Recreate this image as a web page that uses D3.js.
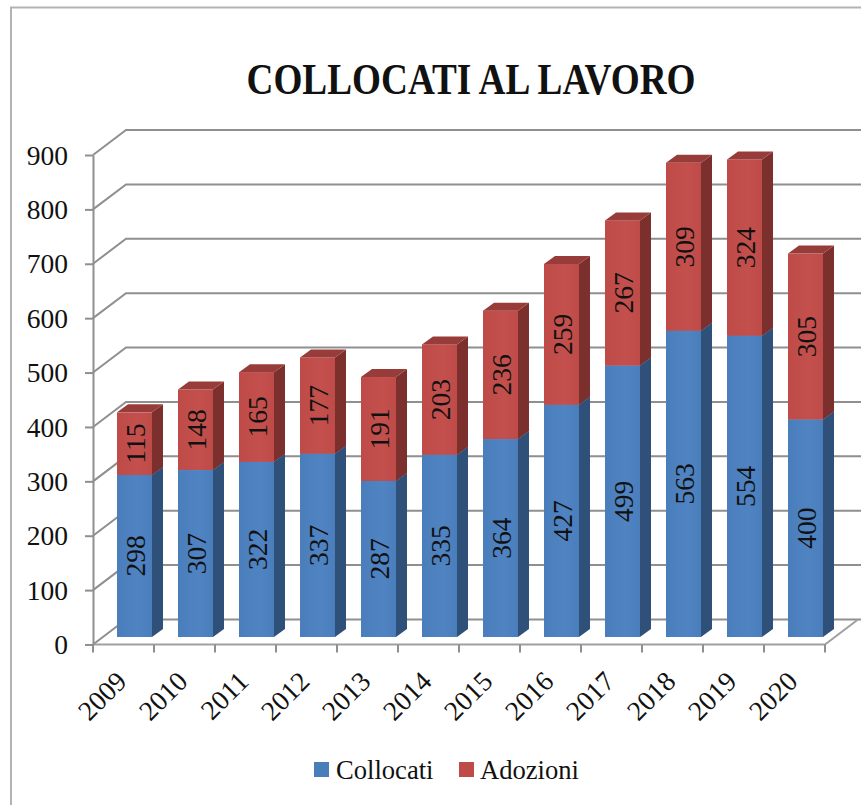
<!DOCTYPE html>
<html><head><meta charset="utf-8">
<style>html,body{margin:0;background:#fff}svg{display:block}text{font-family:"Liberation Serif",serif;fill:#111}</style>
<script src="https://cdn.jsdelivr.net/npm/d3@7"></script></head><body>
<script>
const categories=["2009","2010","2011","2012","2013","2014","2015","2016","2017","2018","2019","2020"];
const collocati=[298,307,322,337,287,335,364,427,499,563,554,400];
const adozioni=[115,148,165,177,191,203,236,259,267,309,324,305];
const seriesNames=["Collocati","Adozioni"];
const yTicks=[0,100,200,300,400,500,600,700,800,900];
const titleText="COLLOCATI AL LAVORO";

const W=861,H=805;
const svg=d3.select("body").append("svg").attr("width",W).attr("height",H);
const defs=svg.append("defs");
const colors={Collocati:{front:"#4a7ebb",side:"#2f5079",top:"#3b659a",hi:"#4f83c2"},
              Adozioni:{front:"#be4b48",side:"#7b302e",top:"#983c3a",hi:"#c3504d"}};
seriesNames.forEach(n=>{
  const g=defs.append("linearGradient").attr("id","g"+n);
  g.append("stop").attr("offset","0").attr("stop-color",colors[n].front);
  g.append("stop").attr("offset","0.6").attr("stop-color",colors[n].hi);
  g.append("stop").attr("offset","1").attr("stop-color",colors[n].front);
});
// frame
svg.append("path").attr("d",`M11,805V7.5H861`).attr("fill","none").attr("stroke","#b3b3b3").attr("stroke-width",2);

const x=d3.scaleBand().domain(categories).range([93,825]);
const y=d3.scaleLinear().domain([0,900]).range([644.5,155]);
const wallDx=33,wallDy=-25;
const barInsetL=24,barW=35,barFwd=7.5,barDx=11,barDy=-8;
const grid="#8f8f8f";
const fs=27.5;

// gridlines
svg.append("g").selectAll("path").data(yTicks).join("path")
  .attr("d",d=>`M93,${y(d)}L${93+wallDx},${y(d)+wallDy}H861`)
  .attr("fill","none").attr("stroke",grid).attr("stroke-width",2);
// floor edge
svg.append("path").attr("d",`M93,${y(0)}H825L${825+wallDx},${y(0)+wallDy}`).attr("fill","none").attr("stroke","#a0a0a0").attr("stroke-width",2);
// axes
const yAxis=d3.axisLeft(y).tickValues(yTicks).tickSize(8).tickPadding(17).tickSizeOuter(0);
const ya=svg.append("g").attr("transform","translate(93,0)").call(yAxis);
ya.select(".domain").attr("stroke",grid).attr("stroke-width",2);
ya.selectAll("line").attr("stroke",grid).attr("stroke-width",2);
ya.selectAll("text").attr("font-size",fs).attr("dy","0.33em");
const xa=svg.append("g").attr("transform",`translate(0,${y(0)})`);
xa.append("g").selectAll("line").data(categories.concat(["end"])).join("line")
  .attr("x1",(d,i)=>93+i*x.bandwidth()).attr("x2",(d,i)=>93+i*x.bandwidth())
  .attr("y1",0).attr("y2",8).attr("stroke",grid).attr("stroke-width",2);
xa.append("g").selectAll("text").data(categories).join("text")
  .attr("text-anchor","end").attr("font-size",fs)
  .attr("transform",d=>`translate(${x(d)+x.bandwidth()*0.5-9},25) rotate(-45)`)
  .attr("dy","0.7em").text(d=>d);

// bars
const series=[{name:"Collocati",vals:collocati},{name:"Adozioni",vals:adozioni}];
const yb=v=>y(v)-barFwd;
const bars=svg.append("g");
categories.forEach((c,i)=>{
  let base=0;
  series.forEach(s=>{
    const v=s.vals[i],x0=x(c)+barInsetL,x1=x0+barW,y0=yb(base),y1=yb(base+v),col=colors[s.name];
    const g=bars.append("g");
    g.append("rect").attr("x",x0).attr("y",y1).attr("width",barW).attr("height",y0-y1).attr("fill",`url(#g${s.name})`);
    g.append("path").attr("d",`M${x1},${y0}L${x1+barDx},${y0+barDy}V${y1+barDy}L${x1},${y1}Z`).attr("fill",col.side);
    g.append("path").attr("d",`M${x0},${y1}L${x0+barDx},${y1+barDy}H${x1+barDx}L${x1},${y1}Z`).attr("fill",col.top);
    g.append("text").attr("font-size",fs).attr("text-anchor","middle")
      .attr("transform",`translate(${x0+barW/2+1},${(y0+y1)/2}) rotate(-90)`)
      .attr("dy","0.33em").text(v);
    base+=v;
  });
});

// title
svg.append("text").attr("x",471).attr("y",94).attr("text-anchor","middle")
  .attr("font-size",44.5).attr("font-weight","bold").attr("textLength",449).attr("lengthAdjust","spacingAndGlyphs").text(titleText);

// legend
const legX=[314,459],legT=[336,480];
seriesNames.forEach((n,i)=>{
  svg.append("rect").attr("x",legX[i]).attr("y",762).attr("width",15).attr("height",15).attr("fill",colors[n].front);
  svg.append("text").attr("x",legT[i]).attr("y",779).attr("font-size",26.6).text(n);
});
</script></body></html>
